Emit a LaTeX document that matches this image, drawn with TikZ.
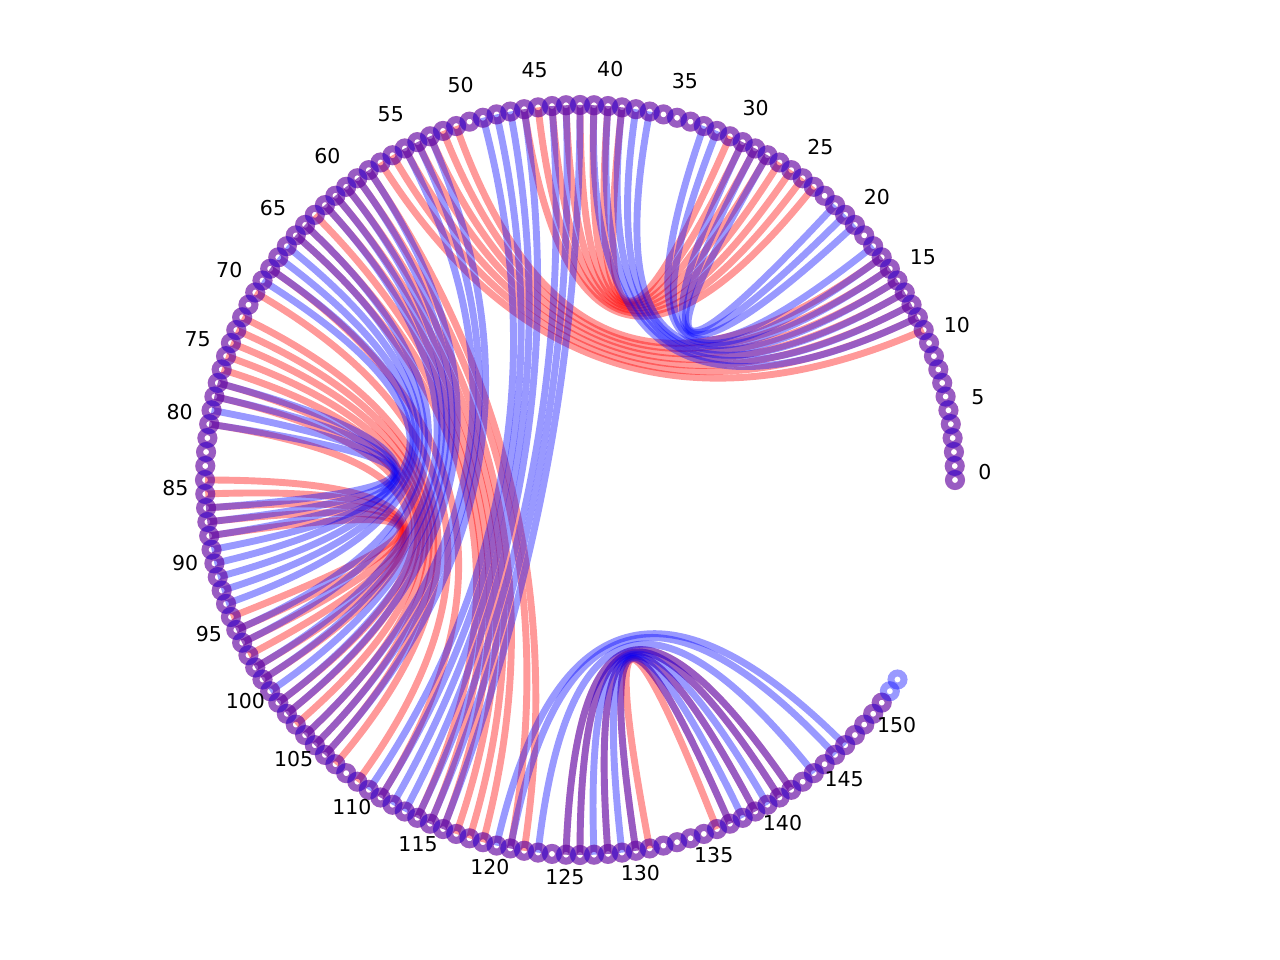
\documentclass[tikz,border=0pt]{standalone}
\usepackage{fontspec}
\setmainfont{DejaVu Sans}
\usetikzlibrary{calc}

\begin{document}
\begin{tikzpicture}[x=1pt,y=1pt]
    % Define colors
    \definecolor{pairred}{RGB}{255, 0, 0}
    \definecolor{pairblue}{RGB}{0, 0, 255}

    % Styles for chords, rings and labels
    \tikzset{
        redchord/.style={draw=pairred, draw opacity=0.4, line width=6.9pt},
        bluechord/.style={draw=pairblue, draw opacity=0.4, line width=6.9pt},
        redring/.style={draw=pairred, draw opacity=0.4, line width=7pt},
        bluering/.style={draw=pairblue, draw opacity=0.4, line width=7pt},
        poslabel/.style={anchor=base, font=\fontsize{20.5}{21}\selectfont}
    }

    % Page frame
    \useasboundingbox (0,0) rectangle (1280,960);
    \coordinate (c) at (580,480);

    % Positions on the circle (168 slots of 15/7 degrees)
    \foreach \k in {0,...,153}
        \coordinate (n\k) at ($(c)+(\k*15/7:375)$);

    % Red pairs
    \foreach \a/\b in {11/57,12/56,13/55,14/54,15/53,16/52,17/51,
                       24/46,25/45,26/44,27/43,28/42,29/41,30/40,31/39,
                       58/122,59/121,60/119,61/118,62/117,63/116,64/115,65/114,
                       68/111,70/109,72/107,73/106,74/105,75/104,76/103,77/102,78/101,
                       80/99,84/98,85/97,86/96,87/95,88/94,
                       125/142,126/141,128/139,130/137,131/136}
        \draw[redchord] (n\a) .. controls ($(c)!1/3!(n\a)$) and ($(c)!1/3!(n\b)$) .. (n\b);

    % Blue pairs
    \foreach \a/\b in {12/41,13/40,14/39,15/38,16/37,17/33,18/32,20/30,21/29,22/28,
                       42/116,43/115,44/114,46/113,47/112,48/111,49/110,
                       53/106,54/105,55/104,58/102,59/101,60/100,61/99,62/98,
                       64/96,65/95,66/93,67/92,68/91,69/90,77/89,78/88,79/87,80/86,
                       120/147,121/146,123/144,125/142,126/141,127/140,128/139,129/138,130/137}
        \draw[bluechord] (n\a) .. controls ($(c)!1/3!(n\a)$) and ($(c)!1/3!(n\b)$) .. (n\b);

    % Rings on the circle
    \foreach \k in {0,...,151}
        \draw[redring] (n\k) circle (6.5);
    \foreach \k in {0,...,153}
        \draw[bluering] (n\k) circle (6.5);

    % Position labels
    \foreach \k in {0,5,...,150}
        \node[poslabel] (l\k) at ($(c)+(\k*15/7:405)$) {\k};

\end{tikzpicture}
\end{document}
